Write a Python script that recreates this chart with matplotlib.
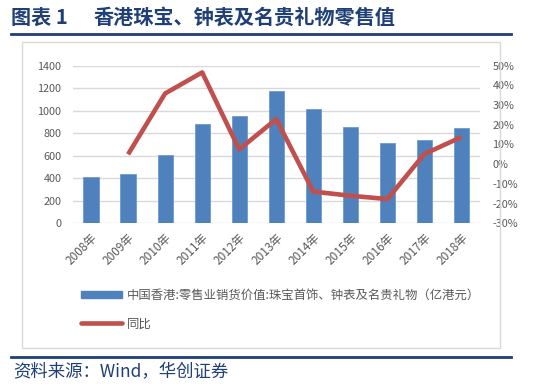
import matplotlib
matplotlib.use("Agg")
import matplotlib.pyplot as plt
from matplotlib.lines import Line2D
from matplotlib.patches import Rectangle, Patch
import numpy as np

plt.rcParams['font.family'] = ['Noto Sans CJK SC', 'DejaVu Sans']

years = ["2008年", "2009年", "2010年", "2011年", "2012年", "2013年",
         "2014年", "2015年", "2016年", "2017年", "2018年"]
sales = [414, 440, 603, 886, 954, 1176, 1016, 857, 709, 741, 848]
yoy_years = years[1:]
yoy = [5.0, 35.9, 46.6, 7.5, 22.9, -13.9, -16.0, -17.7, 5.2, 13.8]

left_ticks = [0, 200, 400, 600, 800, 1000, 1200, 1400]
right_ticks = [-30, -20, -10, 0, 10, 20, 30, 40, 50]

title_num = "图表 1"
title = "香港珠宝、钟表及名贵礼物零售值"
source = "资料来源：Wind，华创证券"
bar_label = "中国香港:零售业销货价值:珠宝首饰、钟表及名贵礼物（亿港元）"
line_label = "同比"

navy = "#1F3F77"
bar_color = "#4F81BD"
line_color = "#C0504D"
tick_color = "#595959"
grid_color = "#D9D9D9"

W, H = 554, 392
fig = plt.figure(figsize=(W / 100, H / 100), dpi=100)

def fx(px):
    return px / W

def fy(py):
    return 1 - py / H

# Title
fig.text(fx(11), fy(17), title_num, fontsize=14.5, fontweight='bold', color=navy,
         ha='left', va='center')
fig.text(fx(93), fy(17), title, fontsize=14.5, fontweight='bold', color=navy,
         ha='left', va='center')
# Rules
fig.add_artist(Line2D([fx(11), fx(511)], [fy(33.5), fy(33.5)], color=navy, lw=2,
                      transform=fig.transFigure))
fig.add_artist(Line2D([fx(11), fx(511)], [fy(356.5), fy(356.5)], color=navy, lw=2,
                      transform=fig.transFigure))
# Chart frame
fig.add_artist(Rectangle((fx(22), fy(347.5)), fx(500) - fx(22), fy(42) - fy(347.5),
                         transform=fig.transFigure, fill=False, edgecolor=grid_color, lw=1))
# Source
fig.text(fx(13), fy(372), source, fontsize=12.5, style='italic', color=navy,
         ha='left', va='center')

ax = fig.add_axes([fx(72.5), fy(223.3), fx(480) - fx(72.5), fy(65.7) - fy(223.3)])
x = np.arange(len(years))
ax.bar(x, sales, width=0.41, color=bar_color, edgecolor="#6F9AD0", linewidth=0.6, zorder=3)
ax.set_xlim(-0.5, len(years) - 0.5)
ax.set_ylim(0, 1400)
ax.set_yticks(left_ticks)
ax.set_yticklabels([str(t) for t in left_ticks])
ax.grid(axis='y', color=grid_color, lw=1, zorder=0)
ax.set_axisbelow(True)
for s in ax.spines.values():
    s.set_visible(False)
ax.tick_params(axis='both', length=0, colors=tick_color, labelsize=7.8)
ax.tick_params(axis='y', pad=8)
ax.set_xticks(x)
ax.set_xticklabels(years, rotation=45, ha='right', rotation_mode='anchor', fontsize=8.5)
ax.tick_params(axis='x', pad=6)

ax2 = ax.twinx()
ax2.plot(x[1:], yoy, color=line_color, lw=3.3, solid_capstyle='butt', zorder=4)
ax2.set_ylim(-30, 50)
ax2.set_yticks(right_ticks)
ax2.set_yticklabels([f"{t}%" for t in right_ticks])
for s in ax2.spines.values():
    s.set_visible(False)
ax2.tick_params(axis='y', length=0, colors=tick_color, labelsize=7.8, pad=9)

handles = [Patch(facecolor=bar_color, edgecolor=bar_color),
           Line2D([0], [0], color=line_color, lw=3.3, solid_capstyle='round')]
leg = fig.legend(handles, [bar_label, line_label], loc='upper left',
                 bbox_to_anchor=(fx(81), fy(289)), frameon=False, fontsize=8.9,
                 handlelength=3.3, handleheight=0.55, handletextpad=0.4,
                 labelspacing=1.25, borderaxespad=0, borderpad=0)
for t in leg.get_texts():
    t.set_color(tick_color)

fig.savefig("out.png", dpi=100)
